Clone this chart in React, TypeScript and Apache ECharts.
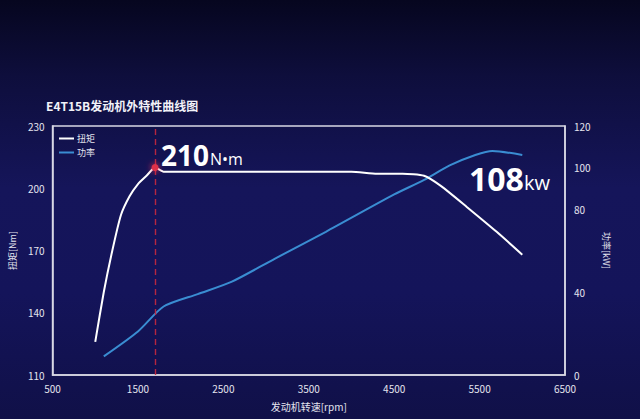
import React, { useEffect, useRef } from "react";
import * as echarts from "echarts";

const titleText = "E4T15B发动机外特性曲线图";
const seriesNames = ["扭矩", "功率"];
const torqueData: [number, number][] = [
  [1000, 126], [1100, 150], [1200, 170], [1300, 187], [1400, 196], [1500, 202],
  [1600, 206], [1700, 210], [1800, 208], [2500, 208], [3000, 208], [3500, 208],
  [4000, 208], [4300, 207], [4600, 207], [4850, 206], [5050, 201], [5350, 191],
  [5700, 179], [6000, 168],
];
const powerData: [number, number][] = [
  [1100, 9], [1500, 21], [1800, 33], [2200, 39], [2600, 45], [3100, 56],
  [3700, 69], [4500, 87], [4850, 94], [5150, 101], [5450, 106], [5650, 108],
  [6000, 106],
];
const peakRpm = 1700;
const peakTorque = 210;
const rightLabelsShown = [0, 40, 80, 100, 120];

const FONT = "'Noto Sans CJK SC', 'Noto Sans', sans-serif";

export default function App() {
  const ref = useRef<HTMLDivElement>(null);
  useEffect(() => {
    if (!ref.current) return;
    const chart = echarts.init(ref.current, null, { renderer: "svg" });
    const axisLabel = { color: "#e4e4ee", fontSize: 10, fontFamily: FONT };
    chart.setOption({
      animation: false,
      backgroundColor: "transparent",
      textStyle: { fontFamily: FONT },
      title: {
        text: titleText,
        left: 41,
        top: 94,
        textStyle: { color: "#f2f2f8", fontSize: 12, fontWeight: "bold", fontFamily: FONT },
      },
      legend: {
        data: seriesNames,
        orient: "vertical",
        left: 54,
        top: 129,
        itemWidth: 15,
        itemHeight: 2,
        itemGap: 5,
        icon: "rect",
        textStyle: { color: "#e4e4ee", fontSize: 9, fontFamily: FONT, padding: [0, 0, 0, -2] },
      },
      grid: {
        left: 48,
        right: 75,
        top: 126,
        bottom: 44,
        show: true,
        borderColor: "#d8d8e4",
        borderWidth: 1.5,
        backgroundColor: "transparent",
      },
      xAxis: {
        type: "value",
        min: 500,
        max: 6500,
        interval: 1000,
        name: "发动机转速[rpm]",
        nameLocation: "middle",
        nameGap: 26,
        nameTextStyle: { color: "#e4e4ee", fontSize: 10, fontFamily: FONT },
        axisLine: { show: true, lineStyle: { color: "#d8d8e4", width: 1.5 } },
        axisTick: { show: false },
        splitLine: { show: false },
        axisLabel: { ...axisLabel, margin: 8, formatter: (v: number) => String(v) },
      },
      yAxis: [
        {
          type: "value",
          min: 110,
          max: 230,
          interval: 30,
          name: "扭矩[Nm]",
          nameLocation: "middle",
          nameGap: 26,
          nameRotate: 90,
          nameTextStyle: { color: "#e4e4ee", fontSize: 9, fontFamily: FONT },
          axisLine: { show: true, lineStyle: { color: "#d8d8e4", width: 1.5 } },
          axisTick: { show: false },
          splitLine: { show: false },
          axisLabel: { ...axisLabel, margin: 8 },
        },
        {
          type: "value",
          min: 0,
          max: 120,
          interval: 20,
          position: "right",
          name: "功率[kW]",
          nameLocation: "middle",
          nameGap: 30,
          nameRotate: -90,
          nameTextStyle: { color: "#e4e4ee", fontSize: 9, fontFamily: FONT },
          axisLine: { show: true, lineStyle: { color: "#d8d8e4", width: 1.5 } },
          axisTick: { show: false },
          splitLine: { show: false },
          axisLabel: {
            ...axisLabel,
            margin: 9,
            formatter: (v: number) => (rightLabelsShown.includes(v) ? String(v) : ""),
          },
        },
      ],
      series: [
        {
          name: seriesNames[0],
          type: "line",
          yAxisIndex: 0,
          data: torqueData,
          smooth: 0.2,
          showSymbol: false,
          lineStyle: { color: "#ffffff", width: 2 },
          itemStyle: { color: "#ffffff" },
          z: 3,
          markLine: {
            silent: true,
            symbol: "none",
            label: { show: false },
            lineStyle: { color: "#c8283e", type: [6, 4], width: 1.4, opacity: 0.9 },
            data: [{ xAxis: peakRpm }],
          },
          markPoint: {
            symbol: "circle",
            symbolSize: 7,
            label: { show: false },
            itemStyle: { color: "#e0304a", shadowColor: "#ff3050", shadowBlur: 6 },
            data: [{ coord: [peakRpm, peakTorque] }],
          },
        },
        {
          name: seriesNames[1],
          type: "line",
          yAxisIndex: 1,
          data: powerData,
          smooth: 0.25,
          showSymbol: false,
          lineStyle: { color: "#3a8dd2", width: 2 },
          itemStyle: { color: "#3a8dd2" },
          z: 2,
        },
      ],
      graphic: [
        {
          type: "text",
          left: 161,
          top: 141,
          style: {
            text: "{a|210}{b|N•m}",
            rich: {
              a: { fill: "#ffffff", fontSize: 28, fontWeight: "bold", fontFamily: "'Open Sans', sans-serif" },
              b: { fill: "#ffffff", fontSize: 16, fontFamily: "'Open Sans', sans-serif", padding: [8, 0, 0, 1] },
            },
          },
        },
        {
          type: "text",
          left: 469,
          top: 162,
          style: {
            text: "{a|108}{b|kw}",
            rich: {
              a: { fill: "#ffffff", fontSize: 32, fontWeight: "bold", fontFamily: "'Open Sans', sans-serif" },
              b: { fill: "#ffffff", fontSize: 20, fontFamily: "'Open Sans', sans-serif", padding: [8, 0, 0, 0] },
            },
          },
        },
      ],
    });
    return () => chart.dispose();
  }, []);
  return (
    <div
      style={{
        position: "fixed",
        left: 0,
        top: 0,
        width: 640,
        height: 419,
        background:
          "linear-gradient(180deg, #06061f 0%, #0e0e3c 18%, #15155a 45%, #14145a 70%, #101048 100%)",
      }}
    >
      <div ref={ref} style={{ width: 640, height: 419 }} />
    </div>
  );
}
